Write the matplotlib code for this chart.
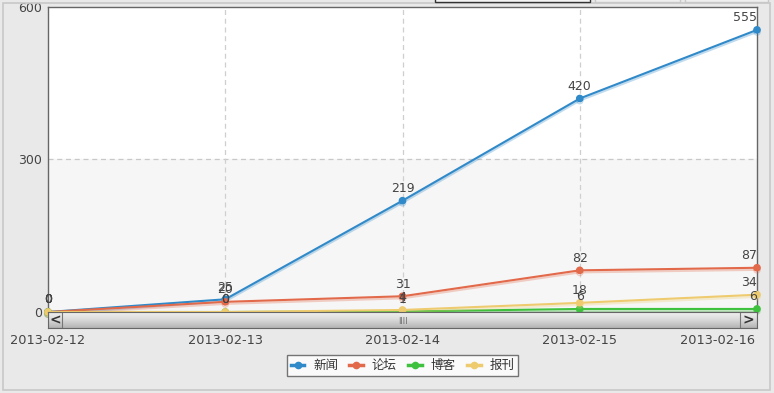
import matplotlib
matplotlib.use("Agg")
import matplotlib.pyplot as plt
import matplotlib.patheffects as pe
from matplotlib.patches import Rectangle
import numpy as np

plt.rcParams['font.family'] = ['DejaVu Sans', 'Noto Sans CJK SC']

dates = ["2013-02-12", "2013-02-13", "2013-02-14", "2013-02-15", "2013-02-16"]
series_names = ["新闻", "论坛", "博客", "报刊"]
news = [0, 25, 219, 420, 555]
forum = [0, 20, 31, 82, 87]
blog = [0, 0, 1, 6, 6]
paper = [0, 0, 4, 18, 34]
series_values = [news, forum, blog, paper]
colors = ["#3089c8", "#e2694a", "#3ec23e", "#eecb6e"]
yticks = [0, 300, 600]

W, H = 774, 393
fig = plt.figure(figsize=(W / 100, H / 100), dpi=100)
fig.patch.set_facecolor("#e9e9e9")

def fx(px):
    return px / W

def fy(py):
    return 1 - py / H

# figure border
fig.patches.append(Rectangle((fx(3), fy(390)), fx(767), (387) / H, transform=fig.transFigure,
                             fill=False, edgecolor="#c8c8c8", lw=1.2, zorder=0))
# top partial widgets
fig.patches.append(Rectangle((fx(435), fy(2)), fx(155), 4 / H, transform=fig.transFigure,
                             facecolor="#f4f4f4", edgecolor="#333333", lw=1, zorder=1))
for x0, x1 in [(595, 680), (685, 768)]:
    fig.patches.append(Rectangle((fx(x0), fy(2)), fx(x1 - x0), 4 / H, transform=fig.transFigure,
                                 facecolor="#efefef", edgecolor="#c8c8c8", lw=1, zorder=1))

L, R, T, B = 48, 757, 7, 312
ax = fig.add_axes([fx(L), fy(B), fx(R - L), (B - T) / H])
ax.set_xlim(0, len(dates) - 1)
ax.set_ylim(0, 600)
ax.set_facecolor("white")
ax.axhspan(0, 300, color="#f6f6f6", zorder=0)
ax.axhline(300, color="#c8c8c8", lw=0.9, ls=(0, (4, 3)), zorder=1)
for i in range(1, len(dates) - 1):
    ax.axvline(i, color="#cfcfcf", lw=0.9, ls=(0, (4, 3)), zorder=1)
for s in ax.spines.values():
    s.set_color("#666666")
    s.set_linewidth(1)

x = np.arange(len(dates))
for name, vals, c in zip(series_names, series_values, colors):
    ax.plot(x, vals, color=c, lw=1.5, marker="o", ms=4.5, clip_on=False, zorder=3,
            label=name,
            path_effects=[pe.SimpleLineShadow(offset=(0, -1.5), shadow_color=c, alpha=0.3),
                          pe.Normal()])
    for xi, v in zip(x, vals):
        ax.annotate(str(v), (xi, v), xytext=(0, 4), textcoords="offset points",
                    ha="right" if xi == len(dates) - 1 else "center", va="bottom",
                    fontsize=9, color="#444444", zorder=4, annotation_clip=False)

ax.set_yticks(yticks)
ax.set_yticklabels([str(t) for t in yticks], fontsize=9, color="#444444")
ax.tick_params(axis="y", length=0, pad=4)
ax.set_xticks([])

# x labels
for i, d in enumerate(dates):
    xp = ax.transData.transform((i, 0))[0] / W
    ha = "center"
    if i == len(dates) - 1:
        xp = fx(755)
        ha = "right"
    fig.text(xp, fy(340), d, ha=ha, va="center", fontsize=9.3, color="#444444")

# scrollbar
sb = fig.add_axes([fx(L), fy(328), fx(R - L), 16 / H])
grad = np.linspace(0, 1, 50).reshape(-1, 1)
sb.imshow(grad, aspect="auto", cmap=matplotlib.colors.LinearSegmentedColormap.from_list(
    "g", ["#f4f4f4", "#dadada", "#b4b4b4"]), extent=[0, 1, 0, 1])
sb.set_xlim(0, 1)
sb.set_ylim(0, 1)
sb.set_xticks([])
sb.set_yticks([])
for s in sb.spines.values():
    s.set_color("#666666")
bw = 14 / (R - L)
sb.add_patch(Rectangle((0, 0), bw, 1, facecolor="none", edgecolor="#777777", lw=0.8))
sb.add_patch(Rectangle((1 - 17 / (R - L), 0), 17 / (R - L), 1, facecolor="none", edgecolor="#777777", lw=0.8))
sb.text(bw / 2, 0.5, "<", ha="center", va="center", fontsize=10, fontweight="bold", color="#333333")
sb.text(1 - 8.5 / (R - L), 0.5, ">", ha="center", va="center", fontsize=10, fontweight="bold", color="#333333")
sb.text(0.5, 0.45, "||||", ha="center", va="center", fontsize=5, color="#555555")

# legend
leg = ax.legend(loc="center", bbox_to_anchor=(fx(402.5), fy(365.5)), bbox_transform=fig.transFigure,
                ncol=4, frameon=True, handlelength=1.1, handletextpad=0.7,
                columnspacing=0.9, borderpad=0.3, fancybox=False, shadow=False,
                prop={"family": ["Noto Sans CJK SC", "DejaVu Sans"], "size": 9})
leg.get_frame().set_edgecolor("#555555")
leg.get_frame().set_linewidth(1)
for t in leg.get_texts():
    t.set_color("#333333")
for h in leg.legend_handles:
    h.set_path_effects([])
    h.set_linewidth(2.5)

fig.savefig("out.png", dpi=100, facecolor=fig.get_facecolor())
